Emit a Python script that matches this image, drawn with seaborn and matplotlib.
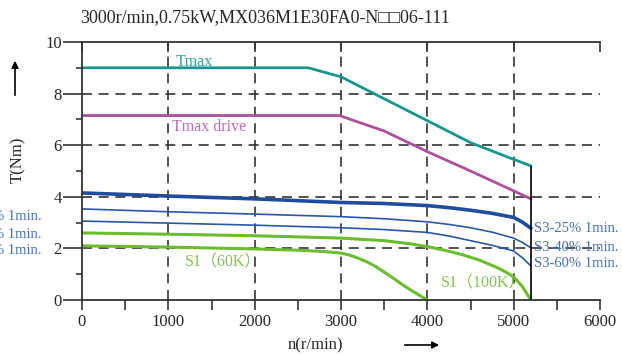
import matplotlib
matplotlib.use('Agg')
import matplotlib.pyplot as plt
from matplotlib.ticker import MultipleLocator, NullLocator
import seaborn as sns

# speed (r/min) / torque (Nm)
speed_tmax = [0, 2620, 3000, 4000, 4500, 5000, 5200]
torque_tmax = [9.0, 9.0, 8.65, 6.95, 6.1, 5.45, 5.2]

speed_drive = [0, 2980, 3500, 4000, 4500, 5200]
torque_drive = [7.15, 7.15, 6.55, 5.75, 5.0, 3.92]

speed_s3 = [0, 1000, 2000, 3000, 3500, 4000, 4250, 4500, 4750, 5000, 5100, 5200]
torque_s3_25 = [4.15, 4.03, 3.92, 3.78, 3.74, 3.66, 3.58, 3.48, 3.36, 3.2, 3.02, 2.78]
torque_s3_40 = [3.53, 3.42, 3.33, 3.23, 3.15, 3.03, 2.93, 2.8, 2.63, 2.4, 2.23, 2.02]
torque_s3_60 = [3.06, 2.98, 2.9, 2.8, 2.73, 2.62, 2.48, 2.3, 2.12, 1.9, 1.64, 1.32]

speed_s1_100 = [0, 1000, 2000, 3000, 3500, 3800, 4000, 4200, 4400, 4600, 4800,
                4900, 5000, 5100, 5200]
torque_s1_100 = [2.6, 2.55, 2.49, 2.4, 2.3, 2.18, 2.07, 1.93, 1.76, 1.55, 1.27,
                 1.1, 0.9, 0.52, 0.0]

speed_s1_60 = [0, 1000, 2000, 2500, 2800, 3000, 3100, 3200, 3300, 3400, 3500,
               3600, 3700, 3800, 3900, 4000]
torque_s1_60 = [2.1, 2.05, 1.98, 1.93, 1.88, 1.82, 1.74, 1.62, 1.48, 1.3, 1.08,
                0.86, 0.62, 0.4, 0.2, 0.0]

grid_speeds = [1000, 2000, 3000, 4000, 5000]
grid_torques = [2, 4, 6, 8]

s3_labels = ['S3-25% 1min.', 'S3-40% 1min.', 'S3-60% 1min.']
title = '3000r/min,0.75kW,MX036M1E30FA0-N\u25a1\u25a106-111'

sns.set_style('white')
plt.rcParams['font.family'] = ['Liberation Serif', 'DejaVu Serif', 'Noto Sans CJK SC']
plt.rcParams['font.size'] = 12

fig = plt.figure(figsize=(6.22, 3.55), dpi=100)
ax = fig.add_axes([82 / 622, 55 / 355, 518 / 622, 258 / 355])

teal, magenta, blue, green = '#17968e', '#ae4f9e', '#1f4c9c', '#6bbd2f'
grid_kw = dict(color='#333333', lw=1.2, ls=(0, (6, 4)), zorder=0)

for gx in grid_speeds:
    ax.axvline(gx, **grid_kw)
for gy in grid_torques:
    ax.axhline(gy, **grid_kw)

sns.lineplot(x=speed_tmax, y=torque_tmax, ax=ax, color=teal, lw=2.0)
sns.lineplot(x=speed_drive, y=torque_drive, ax=ax, color=magenta, lw=2.0)
sns.lineplot(x=speed_s3, y=torque_s3_25, ax=ax, color=blue, lw=2.6)
sns.lineplot(x=speed_s3, y=torque_s3_40, ax=ax, color='#2958a8', lw=1.2)
sns.lineplot(x=speed_s3, y=torque_s3_60, ax=ax, color='#2958a8', lw=1.2)
sns.lineplot(x=speed_s1_100, y=torque_s1_100, ax=ax, color=green, lw=2.2)
sns.lineplot(x=speed_s1_60, y=torque_s1_60, ax=ax, color=green, lw=2.2)
ax.vlines(speed_tmax[-1], 0, torque_tmax[-1], color='black', lw=1.2)

ax.set_xlim(0, 6000)
ax.set_ylim(0, 10)
ax.xaxis.set_major_locator(MultipleLocator(1000))
ax.xaxis.set_minor_locator(MultipleLocator(500))
ax.yaxis.set_major_locator(MultipleLocator(2))
ax.yaxis.set_minor_locator(MultipleLocator(1))
ax.tick_params(axis='x', which='both', direction='out', length=7, width=1.2,
               bottom=True, top=False, color='#333333', pad=3)
ax.tick_params(axis='y', which='major', direction='out', length=13.5, width=1.2,
               left=True, color='#333333', pad=1)
ax.tick_params(axis='y', which='minor', direction='out', length=4.5, width=1.2,
               left=True, color='#333333')

for side in ['left', 'bottom', 'top']:
    ax.spines[side].set_color('#333333')
    ax.spines[side].set_linewidth(1.3)
ax.spines['right'].set_visible(False)

top = ax.secondary_xaxis('top')
top.xaxis.set_major_locator(MultipleLocator(1000))
top.xaxis.set_minor_locator(NullLocator())
top.tick_params(direction='in', length=7, width=1.2, color='#333333', labeltop=False)
top.spines['top'].set_visible(False)

ax.set_xlabel('')
ax.set_ylabel('')

# curve labels
ax.text(1080, 9.23, 'Tmax', color='#2aa39a', fontsize=11.5, va='center')
ax.text(1045, 6.7, 'Tmax drive', color='#c068b0', fontsize=11.5, va='center')
ax.text(1190, 1.45, 'S1\uff0860K\uff09', color='#86c155', fontsize=11.5, va='center')
ax.text(4160, 0.66, 'S1\uff08100K\uff09', color='#86c155', fontsize=11.5, va='center')
for lab, yy in zip(s3_labels, [2.77, 2.02, 1.42]):
    ax.text(5240, yy, lab, color='#4670bd', fontsize=10.5, va='center', clip_on=False)
for lab, yy in zip(s3_labels, [3.23, 2.54, 1.92]):
    ax.text(-465, yy, lab, color='#4670bd', fontsize=10.5, va='center', ha='right',
            clip_on=False)

fig.text(80 / 622, 1 - 18 / 355, title, fontsize=13, va='center', ha='left')

# axis titles with arrows
fig.text(18 / 622, 1 - 160 / 355, 'T(Nm)', rotation=90, fontsize=12,
         va='center', ha='center')
ax.annotate('', xy=(15, 355 - 58), xytext=(15, 355 - 98),
            xycoords='figure pixels', textcoords='figure pixels',
            arrowprops=dict(arrowstyle='-|>', color='black', lw=1.2,
                            mutation_scale=10))
fig.text(315 / 622, 1 - 345 / 355, 'n(r/min)', fontsize=12, va='center', ha='center')
ax.annotate('', xy=(442, 10), xytext=(402, 10),
            xycoords='figure pixels', textcoords='figure pixels',
            arrowprops=dict(arrowstyle='-|>', color='black', lw=1.2,
                            mutation_scale=10))

fig.savefig('out.png', dpi=100)
